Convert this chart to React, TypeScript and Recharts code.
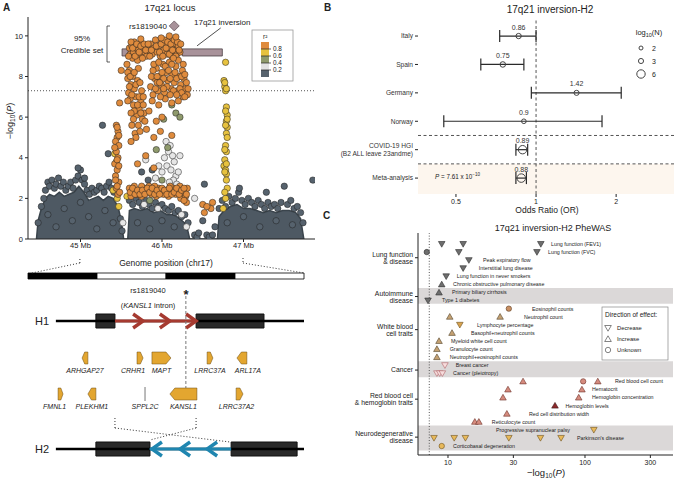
import React from "react";
import {
  ComposedChart,
  ScatterChart,
  Scatter,
  Area,
  XAxis,
  YAxis,
  ReferenceLine,
  ReferenceArea,
  ErrorBar,
} from "recharts";

const FONT = "'Liberation Sans', Arial, Helvetica, sans-serif";

// ---------- A: 17q21 locus (position in Mb, -log10 P) ----------
// upper edge of the dense r2 < 0.2 clouds
const lowLdEnvelope = [
  [44.46, 0], [44.48, 0.9], [44.52, 1.5], [44.57, 2.0], [44.62, 2.2], [44.68, 2.1], [44.74, 2.3],
  [44.8, 2.1], [44.86, 2.2], [44.92, 2.3], [44.98, 2.6], [45.04, 2.3], [45.1, 1.9], [45.16, 2.0],
  [45.22, 2.1], [45.28, 1.9], [45.34, 2.1], [45.4, 2.0], [45.46, 1.6], [45.5, 0.9], [45.53, 0],
  [45.58, 0], [45.6, 1.4], [45.66, 1.5], [45.74, 1.4], [45.82, 1.5], [45.9, 1.3], [45.98, 1.4],
  [46.06, 1.2], [46.14, 1.2], [46.22, 1.0], [46.3, 0.7], [46.34, 0], [46.68, 0], [46.7, 1.1],
  [46.76, 1.4], [46.84, 1.6], [46.92, 1.7], [47.0, 1.5], [47.08, 1.5], [47.16, 1.4], [47.24, 1.3],
  [47.32, 1.4], [47.4, 1.3], [47.48, 1.4], [47.56, 1.4], [47.64, 1.3], [47.7, 1.0], [47.74, 0],
];
const lowLdPoints = [
  [44.48, 0.8], [44.52, 1.6], [44.55, 2.0], [44.57, 2.4], [44.6, 2.8], [44.62, 2.6], [44.65, 2.9],
  [44.68, 2.5], [44.7, 2.7], [44.73, 3.0], [44.76, 2.6], [44.79, 2.8], [44.82, 2.4], [44.85, 2.6],
  [44.88, 2.8], [44.91, 2.5], [44.94, 2.9], [44.97, 3.1], [45.0, 3.4], [45.02, 2.9], [45.05, 2.7],
  [45.08, 2.4], [45.11, 2.2], [45.14, 2.5], [45.17, 2.3], [45.2, 2.4], [45.23, 2.6], [45.26, 2.5],
  [45.29, 2.3], [45.32, 2.6], [45.35, 2.8], [45.38, 2.5], [45.41, 2.3], [45.49, 1.0], [45.51, 0.4],
  [44.6, 1.2], [44.7, 0.6], [44.8, 1.5], [44.9, 0.9], [45.0, 1.8], [45.1, 1.1], [45.2, 0.5],
  [45.3, 1.4], [45.4, 0.8], [45.27, 5.6], [45.34, 4.2], [45.05, 3.0], [44.97, 3.5],
  [45.6, 1.9], [45.64, 1.7], [45.68, 2.0], [45.72, 1.8], [45.76, 1.6], [45.8, 1.9], [45.84, 1.7],
  [45.88, 1.5], [45.92, 1.8], [45.96, 1.6], [46.0, 1.7], [46.04, 1.5], [46.08, 1.4], [46.12, 1.6],
  [46.16, 1.3], [46.2, 1.4], [46.24, 1.1], [46.28, 1.2], [46.32, 0.8], [45.7, 0.8], [45.85, 0.5],
  [46.0, 0.9], [46.15, 0.6], [45.75, 3.3], [45.88, 3.4], [45.83, 2.9],
  [46.4, 0.2], [46.43, 0.1], [46.45, 0.3], [46.5, 0.9], [46.55, 0.2], [46.58, 0.1], [46.62, 0.2],
  [46.52, 2.7], [46.65, 0.6],
  [46.7, 1.5], [46.74, 1.9], [46.78, 1.6], [46.82, 2.1], [46.86, 1.8], [46.9, 2.0], [46.94, 2.3],
  [46.98, 1.9], [47.02, 1.7], [47.06, 2.0], [47.1, 1.8], [47.14, 1.6], [47.18, 1.9], [47.22, 1.7],
  [47.26, 1.5], [47.3, 1.8], [47.34, 1.6], [47.38, 1.7], [47.42, 1.5], [47.46, 1.8], [47.5, 2.6],
  [47.54, 1.7], [47.58, 1.9], [47.62, 1.5], [47.66, 1.6], [47.7, 1.3], [47.73, 0.8], [47.85, 2.9],
  [47.28, 2.3], [46.95, 2.5], [46.8, 0.8], [47.0, 1.1], [47.2, 0.6], [47.4, 0.9], [47.6, 0.7],
];
const weakLdPoints = [
  [46.05, 4.8], [46.1, 4.6], [46.08, 4.3], [46.13, 4.1], [46.03, 4.0], [46.15, 3.8], [46.06, 3.6],
  [46.11, 3.4], [46.0, 3.3], [46.17, 3.1], [45.96, 3.6], [46.14, 2.9], [46.09, 2.8], [46.2, 3.3],
  [45.92, 3.0], [46.18, 2.7], [46.22, 4.1], [45.8, 3.9], [45.78, 1.7], [45.95, 1.5], [46.24, 1.2],
  [46.4, 2.0], [45.52, 0.8], [46.3, 0.6],
];
const moderateLdPoints = [
  [46.02, 5.9], [46.07, 4.5], [46.17, 6.2], [46.22, 6.0], [46.12, 6.6], [45.93, 4.4], [46.0, 2.9],
  [45.85, 1.9],
];
const strongLdPoints = [
  [46.78, 8.7], [46.76, 7.8], [46.77, 7.5], [46.78, 7.3], [46.79, 6.5], [46.8, 6.1], [46.79, 5.8],
  [46.8, 5.5], [46.79, 5.2], [46.78, 4.6], [46.79, 4.3], [46.77, 3.9], [46.76, 3.6], [46.78, 3.4],
  [46.79, 3.2], [46.8, 2.5], [46.78, 2.0], [46.75, 1.5], [46.77, 7.7], [46.79, 7.4], [46.78, 6.3],
  [46.8, 5.9], [46.78, 5.6], [46.8, 5.0], [46.77, 4.4], [46.79, 3.7], [46.77, 3.3], [46.79, 2.9],
  [46.77, 2.3], [45.42, 4.2], [45.44, 3.8], [45.4, 2.4], [45.45, 2.0], [45.47, 1.6], [45.57, 2.1],
];
const topLdPoints = [
  // credible-set block
  [45.6, 9.4], [45.61, 9.1], [45.63, 9.5], [45.65, 9.2], [45.66, 9.7], [45.68, 9.4], [45.7, 9.0],
  [45.71, 9.3], [45.73, 9.6], [45.75, 9.1], [45.77, 9.4], [45.79, 9.2], [45.81, 9.0], [45.84, 9.3],
  [45.86, 9.6], [45.88, 9.1], [45.9, 9.4], [45.92, 9.8], [45.94, 9.2], [45.96, 9.5], [45.98, 9.0],
  [46.0, 9.7], [46.02, 9.3], [46.04, 9.6], [46.06, 9.1], [46.08, 9.8], [46.1, 9.4], [46.12, 9.0],
  [46.14, 9.6], [46.16, 9.3], [46.18, 9.1], [46.2, 9.5], [46.22, 9.2], [45.64, 8.9], [45.7, 8.8],
  [45.59, 9.0], [45.62, 9.7], [45.64, 9.4], [45.67, 9.0], [45.69, 9.6], [45.72, 9.2], [45.74, 9.5],
  [45.76, 8.9], [45.78, 9.6], [45.8, 9.3], [45.83, 9.6], [45.85, 9.0], [45.87, 9.3], [45.93, 9.5],
  [45.97, 9.2], [45.99, 9.6], [46.01, 9.0], [46.03, 9.8], [46.05, 9.4], [46.07, 9.7], [46.09, 9.1],
  [46.11, 9.6], [46.13, 9.3], [46.15, 9.8], [46.17, 9.0], [46.19, 9.7], [46.21, 9.3], [46.23, 9.6],
  [46.09, 10.0], [45.99, 9.9], [45.74, 9.85], [46.17, 9.95],
  // left column below the block
  [45.57, 8.6], [45.6, 8.3], [45.58, 7.9], [45.62, 7.6], [45.59, 7.2], [45.64, 8.0], [45.66, 7.4],
  [45.61, 6.9], [45.65, 6.6], [45.68, 7.0], [45.7, 7.8], [45.72, 6.4], [45.69, 6.1], [45.74, 6.8],
  [45.76, 5.9], [45.71, 8.4], [45.75, 7.3], [45.63, 5.6], [45.67, 5.2], [45.78, 6.2],
  [45.58, 8.2], [45.61, 8.0], [45.63, 7.1], [45.6, 7.5], [45.66, 8.2], [45.68, 7.6], [45.72, 7.0],
  [45.73, 7.7], [45.77, 7.0], [45.66, 6.3], [45.7, 6.6], [45.74, 6.2], [45.71, 5.6], [45.68, 5.0],
  [45.73, 5.3], [45.62, 6.2], [45.58, 6.8], [45.77, 6.6], [45.79, 5.8], [45.65, 5.9],
  // right block
  [45.86, 7.5], [45.89, 7.1], [45.91, 7.9], [45.93, 8.4], [45.95, 7.3], [45.97, 8.0], [45.99, 7.6],
  [46.01, 8.6], [46.03, 7.2], [46.05, 8.2], [46.07, 7.8], [46.09, 8.7], [46.11, 7.4], [46.13, 8.1],
  [46.15, 7.7], [46.17, 8.5], [46.19, 7.3], [46.21, 8.0], [46.23, 7.6], [46.25, 8.3], [46.27, 7.9],
  [46.29, 7.4], [46.31, 7.1], [45.88, 6.8], [45.96, 6.6], [46.04, 6.9], [46.12, 6.7], [46.2, 6.8],
  [46.26, 7.0], [45.84, 6.3], [45.93, 5.8], [46.0, 6.0], [45.81, 5.4], [45.9, 5.0],
  [45.87, 8.0], [45.9, 8.6], [45.92, 7.4], [45.94, 8.0], [45.96, 8.7], [45.98, 7.0], [46.0, 8.2],
  [46.02, 7.9], [46.04, 8.5], [46.06, 7.5], [46.08, 8.3], [46.1, 7.9], [46.12, 8.6], [46.14, 7.3],
  [46.16, 8.2], [46.18, 7.9], [46.2, 8.8], [46.22, 7.4], [46.24, 8.0], [46.26, 8.6], [46.28, 8.1],
  [46.3, 7.7], [46.32, 7.4], [46.24, 7.2], [46.28, 7.0], [46.18, 7.1], [46.1, 7.1], [46.02, 7.4],
  [45.94, 7.7], [45.89, 8.3], [45.97, 7.7], [46.14, 8.9],
  // column near 45.45 Mb
  [45.44, 5.6], [45.46, 5.3], [45.45, 5.0], [45.43, 4.8], [45.47, 4.6], [45.44, 4.3], [45.46, 4.0],
  [45.42, 3.7], [45.45, 3.4], [45.43, 3.1], [45.47, 2.8], [45.44, 2.5], [45.46, 2.2], [45.5, 8.3],
  [45.48, 6.7], [45.45, 5.5], [45.47, 5.1], [45.42, 4.5], [45.45, 3.9], [45.47, 3.6], [45.43, 2.9],
  [45.48, 2.3], [45.45, 2.6],
  // band near -log10 P = 2.3
  [45.6, 2.5], [45.63, 2.3], [45.66, 2.6], [45.69, 2.2], [45.72, 2.4], [45.75, 2.1], [45.78, 2.5],
  [45.81, 2.3], [45.84, 2.6], [45.87, 2.2], [45.9, 2.4], [45.93, 2.1], [45.96, 2.5], [45.99, 2.3],
  [46.02, 2.2], [46.05, 2.4], [46.08, 2.1], [46.11, 2.3], [46.14, 2.5], [46.17, 2.2], [46.2, 2.4],
  [46.23, 2.0], [46.26, 2.3], [46.29, 2.1], [46.31, 2.5], [46.3, 1.8], [45.62, 2.1], [45.75, 2.6],
  [45.91, 2.6], [46.1, 2.6], [46.22, 2.6], [46.27, 1.9],
  [45.61, 2.3], [45.64, 2.5], [45.67, 2.2], [45.7, 2.4], [45.73, 2.2], [45.76, 2.4], [45.79, 2.2],
  [45.82, 2.5], [45.85, 2.3], [45.88, 2.5], [45.91, 2.2], [45.94, 2.4], [45.97, 2.2], [46.0, 2.5],
  [46.03, 2.4], [46.06, 2.2], [46.09, 2.5], [46.12, 2.2], [46.15, 2.3], [46.18, 2.5], [46.21, 2.2],
  [46.24, 2.4], [46.27, 2.5], [46.3, 2.2],
  [46.5, 1.7], [46.52, 1.3], [46.6, 1.5], [46.62, 1.8], [46.55, 1.6],
  [45.62, 4.8], [45.8, 4.1], [45.9, 3.5], [45.7, 3.7], [45.98, 5.3], [46.12, 5.1],
];
const leadSnp = [[46.15, 10.49]];
const inversionSpan = [45.51, 46.74];
const gwsThreshold = 7.3;
const locusXTicks = [45, 46, 47];
const locusYTicks = [0, 2, 4, 6, 8, 10];
const r2Breaks = ["0.8", "0.6", "0.4", "0.2"];

// ---------- A: haplotype diagram (diagram units 0-100 along the region) ----------
const chromBandEdges = [0, 25, 50, 75, 100];
const h1Blocks = [[24.6, 31.5], [60.9, 85.5]];
const h2Blocks = [[24.6, 44.2], [73.6, 97.5]];
const h1Chevrons = [41.7, 51.4, 60.9];
const h2Chevrons = [44.9, 55.1, 64.9];
const rsPosition = 57.2;
const genes = [
  { name: "ARHGAP27", start: 19.6, end: 21.7, strand: -1, row: 0 },
  { name: "CRHR1", start: 39.5, end: 41.7, strand: 1, row: 0 },
  { name: "MAPT", start: 44.9, end: 51.8, strand: 1, row: 0 },
  { name: "LRRC37A", start: 64.9, end: 67.0, strand: 1, row: 0 },
  { name: "ARL17A", start: 75.7, end: 79.3, strand: -1, row: 0 },
  { name: "FMNL1", start: 10.9, end: 12.7, strand: 1, row: 1 },
  { name: "PLEKHM1", start: 21.7, end: 24.6, strand: -1, row: 1 },
  { name: "SPPL2C", start: 42.2, end: 42.6, strand: 0, row: 1 },
  { name: "KANSL1", start: 51.4, end: 61.2, strand: -1, row: 1 },
  { name: "LRRC37A2", start: 75.4, end: 77.9, strand: 1, row: 1 },
];

// ---------- B: forest plot ----------
const cohorts = ["Italy", "Spain", "Germany", "Norway", "COVID-19 HGI\n(B2 ALL leave 23andme)", "Meta-analysis"];
const oddsRatios = [0.86, 0.75, 1.42, 0.9, 0.89, 0.88];
const ciLower = [0.73, 0.62, 0.96, 0.45, 0.84, 0.84];
const ciUpper = [1.0, 0.9, 2.09, 1.77, 0.93, 0.92];
const log10N = [3.2, 3.4, 3.0, 2.6, 6.0, 6.1];
const sizeLegend = [2, 3, 6];

// ---------- C: PheWAS ----------
const phewasTraits = [
  "Lung function (FEV1)", "Lung function (FVC)", "Peak expiratory flow", "Interstitial lung disease",
  "Lung function in never smokers", "Chronic obstructive pulmonary disease", "Primary biliary cirrhosis",
  "Type 1 diabetes", "Eosinophil counts", "Neutrophil count", "Lymphocyte percentage",
  "Basophil+neutrophil counts", "Myeloid white cell count", "Granulocyte count",
  "Neutrophil+eosinophil counts", "Breast cancer", "Cancer (pleiotropy)", "Red blood cell count",
  "Hematocrit", "Hemoglobin concentration", "Hemoglobin levels", "Red cell distribution width",
  "Reticulocyte count", "Progressive supranuclear palsy", "Parkinson's disease", "Corticobasal degeneration",
];
// [trait index, -log10 P, direction: d = decrease, i = increase, u = unknown]
const phewasHits: [number, number, string][] = [
  [0, 9.0, "d"], [0, 12.9, "d"], [0, 47.6, "d"],
  [1, 7.0, "u"], [1, 12.0, "d"], [1, 44.6, "d"],
  [2, 14.2, "d"], [3, 12.9, "d"], [4, 9.7, "d"], [5, 9.0, "i"], [6, 8.6, "i"], [7, 7.15, "d"],
  [8, 27.8, "u"], [9, 10.3, "i"], [9, 24.0, "i"], [10, 12.2, "d"], [11, 10.7, "i"], [12, 8.6, "i"],
  [13, 8.3, "i"], [14, 8.3, "i"],
  [15, 9.5, "d"], [16, 8.3, "d"], [16, 8.7, "d"], [16, 9.1, "d"],
  [17, 35.3, "i"], [17, 97, "u"], [17, 124, "i"], [18, 27.4, "i"], [18, 95, "i"], [19, 25.2, "i"],
  [19, 90, "i"], [20, 60.4, "i"], [21, 26.9, "i"], [22, 15.7, "i"], [22, 16.8, "i"],
  [23, 116, "d"], [24, 7.9, "d"], [24, 11.1, "d"], [24, 13.4, "d"], [24, 27.8, "d"], [24, 47.3, "d"],
  [24, 66.9, "d"], [25, 9.0, "u"],
];
const phewasLabelAt = [
  56.5, 53.7, 18.0, 16.8, 11.6, 10.9, 10.7, 9.04, 41.0, 35.9, 16.3, 14.7, 10.5, 10.3, 10.3, 11.4,
  10.9, 165.6, 112.5, 112.5, 72, 39.0, 20.9, 77.7, 87.5, 10.9,
];
const phewasGroups = [
  ["Lung function", "& disease"], ["Autoimmune", "disease"], ["White blood", "cell traits"],
  ["Cancer"], ["Red blood cell", "& hemoglobin traits"], ["Neurodegenerative", "disease"],
];
const phewasGroupAt = [1.7, 6.5, 10.6, 15.6, 19.2, 23.9];
const phewasBands = [[5.45, 7.4], [14.5, 16.5], [22.45, 25.55]];
const phewasTicks = [10, 30, 100, 300];
const pThreshold = 7.3;

const pts = (a: number[][]) => a.map(([pos, lp]) => ({ pos, lp }));
const dot = (fill: string) => (p: any) => (
  <circle cx={p.cx} cy={p.cy} r={3.2} fill={fill} stroke="#1e1e1e" strokeWidth={0.5} />
);
const tickStyle = { fontSize: 7.5, fill: "#222", fontFamily: FONT };

function LocusPlot() {
  return (
    <ComposedChart width={340} height={270} data={pts(lowLdEnvelope)} margin={{ top: 17, right: 25, bottom: 11, left: 8 }}>
      <XAxis dataKey="pos" type="number" domain={[44.356, 47.877]} allowDataOverflow ticks={locusXTicks}
        interval={0} tickFormatter={(v) => `${v} Mb`} height={20} tickSize={3} tickMargin={1}
        tick={tickStyle} stroke="#222" />
      <YAxis type="number" domain={[0, 10.93]} allowDataOverflow ticks={locusYTicks} interval={0}
        width={20} tickSize={3} tickMargin={2} tick={tickStyle} stroke="#222" />
      <Area dataKey="lp" type="linear" fill="#4e5963" fillOpacity={1} stroke="#3a444c" strokeWidth={1.5}
        dot={false} activeDot={false} isAnimationActive={false} />
      <Scatter data={pts(lowLdPoints)} dataKey="lp" shape={dot("#56626d")} isAnimationActive={false} />
      <Scatter data={pts(weakLdPoints)} dataKey="lp" shape={dot("#e6e6e6")} isAnimationActive={false} />
      <Scatter data={pts(moderateLdPoints)} dataKey="lp" shape={dot("#8f9a6c")} isAnimationActive={false} />
      <Scatter data={pts(strongLdPoints)} dataKey="lp" shape={dot("#e7c23f")} isAnimationActive={false} />
      <Scatter data={pts(topLdPoints)} dataKey="lp" shape={dot("#df8b3d")} isAnimationActive={false} />
      <ReferenceLine y={gwsThreshold} stroke="#555" strokeDasharray="1 2" />
      <ReferenceArea x1={inversionSpan[0]} x2={45.65} y1={9.01} y2={9.36} fill="#a8929a" fillOpacity={1}
        stroke="#4a3f44" strokeWidth={0.8} ifOverflow="visible" />
      <ReferenceArea x1={46.25} x2={inversionSpan[1]} y1={9.01} y2={9.36} fill="#a8929a" fillOpacity={1}
        stroke="#4a3f44" strokeWidth={0.8} ifOverflow="visible" />
      <ReferenceLine segment={[{ x: 45.65, y: 9.19 }, { x: 46.25, y: 9.19 }]} stroke="#7d6e74" strokeWidth={1} />
      <ReferenceLine segment={[{ x: 46.43, y: 9.51 }, { x: 46.72, y: 10.39 }]} stroke="#222" strokeWidth={0.8}
        ifOverflow="visible" />
      <Scatter data={pts(leadSnp)} dataKey="lp" isAnimationActive={false}
        shape={(p: any) => (
          <path d={`M${p.cx},${p.cy - 5} L${p.cx + 5},${p.cy} L${p.cx},${p.cy + 5} L${p.cx - 5},${p.cy}Z`}
            fill="#a8929a" stroke="#5a4b51" strokeWidth={0.7} />
        )} />
    </ComposedChart>
  );
}

const PXU = 276 / 100; // px per diagram unit
const TRACK = { chromTop: 18, chromBottom: 24, h1: 66, rows: [103, 139], h2: 194 };
const labelNudge: Record<string, number> = { CRHR1: -7, ARL17A: 6, FMNL1: -6, LRRC37A2: -3 };

function GeneShape(p: any) {
  const g = p.payload;
  const { cx, cy } = p;
  const w = (g.end - g.start) * PXU;
  const x0 = cx - w / 2;
  const x1 = cx + w / 2;
  const a = Math.min(w * 0.45, 5);
  let body;
  if (g.strand === 0) {
    body = <line x1={cx} x2={cx} y1={cy - 7} y2={cy + 7} stroke="#777" strokeWidth={1} />;
  } else if (g.strand === 1) {
    body = <path d={`M${x0},${cy - 6} L${x1 - a},${cy - 6} L${x1},${cy} L${x1 - a},${cy + 6} L${x0},${cy + 6}Z`}
      fill="#e3a630" stroke="#6b4a12" strokeWidth={0.5} />;
  } else {
    body = <path d={`M${x1},${cy - 6} L${x0 + a},${cy - 6} L${x0},${cy} L${x0 + a},${cy + 6} L${x1},${cy + 6}Z`}
      fill="#e3a630" stroke="#6b4a12" strokeWidth={0.5} />;
  }
  return (
    <g>
      {body}
      <text x={cx + (labelNudge[g.name] || 0)} y={cy + 15} textAnchor="middle" fontSize={7} fontStyle="italic"
        fontFamily={FONT} fill="#222">{g.name}</text>
    </g>
  );
}

function HaplotypeDiagram() {
  const geneData = genes.map((g) => ({ ...g, pos: (g.start + g.end) / 2, y: TRACK.rows[g.row] }));
  const chev = (xs: number[], y: number) => xs.map((pos) => ({ pos, y }));
  const dotted = { stroke: "#333", strokeDasharray: "1 2", strokeWidth: 1, ifOverflow: "visible" as const };
  return (
    <ComposedChart width={340} height={233} margin={{ top: 0, right: 36, bottom: 3, left: 28 }}>
      <XAxis dataKey="pos" type="number" domain={[0, 100]} hide allowDataOverflow />
      <YAxis dataKey="y" type="number" domain={[0, 230]} reversed hide allowDataOverflow />
      {chromBandEdges.slice(0, -1).map((s, i) => (
        <ReferenceArea key={`b${i}`} x1={s} x2={chromBandEdges[i + 1]} y1={TRACK.chromTop} y2={TRACK.chromBottom}
          fill={i % 2 === 0 ? "#000" : "#fff"} fillOpacity={1} stroke="#000" strokeWidth={0.8} />
      ))}
      <ReferenceLine segment={[{ x: 1.4, y: 18 }, { x: 18.8, y: 8 }]} {...dotted} />
      <ReferenceLine segment={[{ x: 18.8, y: 8 }, { x: 18.8, y: 3 }]} {...dotted} />
      <ReferenceLine segment={[{ x: 77.9, y: 3 }, { x: 77.9, y: 8 }]} {...dotted} />
      <ReferenceLine segment={[{ x: 77.9, y: 8 }, { x: 100, y: 18 }]} {...dotted} />
      <ReferenceLine segment={[{ x: 10.1, y: TRACK.h1 }, { x: 100, y: TRACK.h1 }]} stroke="#000" strokeWidth={2.6} />
      <ReferenceLine segment={[{ x: 10.1, y: TRACK.h2 }, { x: 100, y: TRACK.h2 }]} stroke="#000" strokeWidth={2.6} />
      <ReferenceLine segment={[{ x: h1Blocks[0][1], y: TRACK.h1 }, { x: h1Blocks[1][0], y: TRACK.h1 }]}
        stroke="#a63a30" strokeWidth={3.2} />
      <ReferenceLine segment={[{ x: h2Blocks[0][1], y: TRACK.h2 }, { x: h2Blocks[1][0], y: TRACK.h2 }]}
        stroke="#1f86b0" strokeWidth={3.2} />
      {h1Blocks.map(([s, e], i) => (
        <ReferenceArea key={`h1${i}`} x1={s} x2={e} y1={TRACK.h1 - 7} y2={TRACK.h1 + 7} fill="#2a2a2a"
          fillOpacity={1} stroke="#111" />
      ))}
      {h2Blocks.map(([s, e], i) => (
        <ReferenceArea key={`h2${i}`} x1={s} x2={e} y1={TRACK.h2 - 7} y2={TRACK.h2 + 7} fill="#2a2a2a"
          fillOpacity={1} stroke="#111" />
      ))}
      <ReferenceLine segment={[{ x: rsPosition, y: 41 }, { x: rsPosition, y: 133 }]} stroke="#777"
        strokeDasharray="3 2" strokeWidth={1} />
      <ReferenceLine segment={[{ x: 31.5, y: 163 }, { x: 31.5, y: 173 }]} {...dotted} />
      <ReferenceLine segment={[{ x: 31.5, y: 173 }, { x: 73.2, y: 187 }]} {...dotted} />
      <ReferenceLine segment={[{ x: 60.9, y: 163 }, { x: 60.9, y: 173 }]} {...dotted} />
      <ReferenceLine segment={[{ x: 60.9, y: 173 }, { x: 44.2, y: 185 }]} {...dotted} />
      <Scatter data={chev(h1Chevrons, TRACK.h1)} dataKey="y" isAnimationActive={false}
        shape={(p: any) => (
          <path d={`M${p.cx - 10},${p.cy - 7} L${p.cx},${p.cy} L${p.cx - 10},${p.cy + 7}`} fill="none"
            stroke="#a63a30" strokeWidth={3.4} />
        )} />
      <Scatter data={chev(h2Chevrons, TRACK.h2)} dataKey="y" isAnimationActive={false}
        shape={(p: any) => (
          <path d={`M${p.cx + 10},${p.cy - 7} L${p.cx},${p.cy} L${p.cx + 10},${p.cy + 7}`} fill="none"
            stroke="#1f86b0" strokeWidth={3.4} />
        )} />
      <Scatter data={geneData} dataKey="y" shape={GeneShape} isAnimationActive={false} />
    </ComposedChart>
  );
}

function CohortTick(props: any) {
  const { x, y, payload } = props;
  const lines = cohorts[payload.value].split("\n");
  return (
    <text textAnchor="end" fontSize={6.6} fontFamily={FONT} fill="#333">
      {lines.map((l, i) => (
        <tspan key={i} x={x} y={lines.length === 1 ? y + 2.4 : y - 1.5 + i * 8.3}>{l}</tspan>
      ))}
    </text>
  );
}

const radiusFor = (n: number) => 0.9 + n * 0.55;

function ForestPlot() {
  const data = cohorts.map((name, row) => ({
    name, row, or: oddsRatios[row], n: log10N[row],
    err: [oddsRatios[row] - ciLower[row], ciUpper[row] - oddsRatios[row]],
  }));
  return (
    <ScatterChart width={343} height={215} margin={{ top: 19, right: 9, bottom: 9, left: 0 }}>
      <ReferenceArea y1={4.5} y2={5.56} fill="#fdf6ee" fillOpacity={1} stroke="none" ifOverflow="hidden" />
      <ReferenceLine x={1} stroke="#555" strokeDasharray="3 2.5" />
      <ReferenceLine y={3.5} stroke="#555" strokeDasharray="3 2.5" />
      <ReferenceLine y={4.5} stroke="#555" strokeDasharray="3 2.5" />
      <XAxis dataKey="or" type="number" scale="log" domain={[0.36, 3.3]} allowDataOverflow ticks={[0.5, 1, 2]}
        interval={0} height={12} tickSize={3} tickMargin={2} axisLine={false} tick={{ ...tickStyle, fontSize: 7 }}
        stroke="#222" />
      <YAxis dataKey="row" type="number" domain={[-0.6, 5.56]} reversed allowDataOverflow ticks={[0, 1, 2, 3, 4, 5]}
        interval={0} width={78} tickSize={3} tickMargin={2} axisLine={false} tick={<CohortTick />} stroke="#222" />
      <Scatter data={data} isAnimationActive={false}
        shape={(p: any) => (
          <g>
            <circle cx={p.cx} cy={p.cy} r={radiusFor(p.payload.n)} fill="none" stroke="#444" strokeWidth={1} />
            <text x={p.cx} y={p.cy - 6.5} textAnchor="middle" fontSize={7} fontFamily={FONT} fill="#333">
              {String(p.payload.or)}
            </text>
          </g>
        )}>
        <ErrorBar dataKey="err" direction="x" width={6} stroke="#2a2a2a" strokeWidth={1.2} />
      </Scatter>
      <ReferenceArea fill="none" stroke="#222" strokeWidth={1.2} ifOverflow="visible" />
    </ScatterChart>
  );
}

function GroupTick(props: any) {
  const { x, y, payload } = props;
  const idx = phewasGroupAt.indexOf(payload.value);
  const lines = phewasGroups[idx] || [];
  return (
    <text textAnchor="end" fontSize={6.8} fontFamily={FONT} fill="#222">
      {lines.map((l, i) => (
        <tspan key={i} x={x} y={lines.length === 1 ? y + 2.4 : y - 1 + i * 7}>{l}</tspan>
      ))}
    </text>
  );
}

function traitColors(row: number): [string, string] {
  if (row === 10) return ["#d9a34f", "#6b5020"];
  if (row === 8) return ["#c98f63", "#5a3c22"];
  if (row === 20) return ["#8c2a2c", "#3d1010"];
  if (row <= 7) return ["#6e6e6e", "#2e2e2e"];
  if (row <= 14) return ["#c4a173", "#54442c"];
  if (row <= 16) return ["#f7dcdc", "#b0646a"];
  if (row <= 22) return ["#d58b7e", "#6d3028"];
  return ["#e8b95a", "#6e5220"];
}

function marker(dir: string, cx: number, cy: number, fill: string, stroke: string, key?: string) {
  if (dir === "u") return <circle key={key} cx={cx} cy={cy} r={2.7} fill={fill} stroke={stroke} strokeWidth={0.6} />;
  if (dir === "i")
    return <path key={key} d={`M${cx},${cy - 3.2} L${cx + 3.3},${cy + 2.5} L${cx - 3.3},${cy + 2.5}Z`} fill={fill}
      stroke={stroke} strokeWidth={0.6} />;
  return <path key={key} d={`M${cx},${cy + 3.2} L${cx + 3.3},${cy - 2.5} L${cx - 3.3},${cy - 2.5}Z`} fill={fill}
    stroke={stroke} strokeWidth={0.6} />;
}

function PhewasPlot() {
  const hits = phewasHits.map(([row, p, dir]) => ({ row, p, dir }));
  const labels = phewasTraits.map((name, row) => ({ row, p: phewasLabelAt[row], name }));
  return (
    <ScatterChart width={343} height={273} margin={{ top: 18, right: 10, bottom: 13, left: 0 }}>
      {phewasBands.map(([a, b], i) => (
        <ReferenceArea key={i} y1={a} y2={b} fill="#dbd8d8" fillOpacity={1} stroke="none" />
      ))}
      <ReferenceLine x={pThreshold} stroke="#555" strokeDasharray="1 1.8" />
      <XAxis dataKey="p" type="number" scale="log" domain={[6.04, 439]} allowDataOverflow ticks={phewasTicks}
        interval={0} height={20} tickSize={3} tickMargin={2} tick={{ ...tickStyle, fontSize: 7 }} stroke="#222" />
      <YAxis dataKey="row" type="number" domain={[-1.36, 26.11]} reversed allowDataOverflow ticks={phewasGroupAt}
        interval={0} width={78} tickSize={3} tickMargin={2} tick={<GroupTick />} stroke="#222" />
      <Scatter data={hits} isAnimationActive={false}
        shape={(p: any) => {
          const [f, s] = traitColors(p.payload.row);
          return marker(p.payload.dir, p.cx, p.cy, f, s);
        }} />
      <Scatter data={labels} isAnimationActive={false}
        shape={(p: any) => (
          <text x={p.cx} y={p.cy + 1.9} textAnchor={p.payload.row === 23 ? "end" : "start"} fontSize={5.3}
            fontFamily={FONT} fill="#222">{p.payload.name}</text>
        )} />
    </ScatterChart>
  );
}

function Overlay() {
  const t = { fontFamily: FONT, fill: "#222" };
  const barColors = ["#df8b3d", "#e7c23f", "#8f9a6c", "#e2e2e2", "#56626d"];
  return (
    <svg width={683} height={488} style={{ position: "absolute", left: 0, top: 0, pointerEvents: "none" }}>
      <text x={3} y={11} fontSize={10} fontWeight="bold" {...t}>A</text>
      <text x={324} y={11} fontSize={10} fontWeight="bold" {...t}>B</text>
      <text x={323} y={219} fontSize={10} fontWeight="bold" {...t}>C</text>
      <text x={170} y={11} fontSize={9.5} textAnchor="middle" {...t}>17q21 locus</text>
      <text transform="translate(13,121) rotate(-90)" fontSize={9} textAnchor="middle" {...t}>
        −log<tspan fontSize={6.5} dy={2}>10</tspan><tspan dy={-2}>(</tspan><tspan fontStyle="italic">P</tspan>)
      </text>
      <text x={166} y={266} fontSize={8.5} textAnchor="middle" {...t}>Genome position (chr17)</text>
      {/* credible set bracket */}
      <path d="M110,26 L107,26 L107,62 L110,62" fill="none" stroke="#333" strokeWidth={0.8} />
      <text x={82} y={41} fontSize={8} textAnchor="middle" {...t}>95%</text>
      <text x={82} y={53} fontSize={8} textAnchor="middle" {...t}>Credible set</text>
      <text x={148} y={29} fontSize={8} textAnchor="middle" {...t}>rs1819040</text>
      <text x={194} y={25} fontSize={8} {...t}>17q21 inversion</text>
      {/* r2 legend */}
      <rect x={252} y={30} width={41} height={51} fill="#fff" stroke="#9a9a9a" strokeWidth={0.8} />
      <text x={263} y={39} fontSize={6.5} {...t}>r²</text>
      {barColors.map((c, i) => (
        <rect key={c} x={261} y={42 + i * 7} width={8} height={7} fill={c} />
      ))}
      {r2Breaks.map((b, i) => (
        <g key={b}>
          <line x1={261} x2={271} y1={49 + i * 7} y2={49 + i * 7} stroke="#222" strokeWidth={0.7} />
          <text x={273} y={51.3 + i * 7} fontSize={6.4} {...t}>{b}</text>
        </g>
      ))}
      {/* diagram texts */}
      <text x={148} y={293} fontSize={7.5} textAnchor="middle" {...t}>rs1819040</text>
      <text x={186} y={299} fontSize={13} fontWeight="bold" textAnchor="middle" {...t}>*</text>
      <text x={148} y={308} fontSize={7.5} textAnchor="middle" {...t}>
        (<tspan fontStyle="italic">KANSL1</tspan> intron)
      </text>
      <text x={35} y={325} fontSize={11} {...t}>H1</text>
      <text x={35} y={453} fontSize={11} {...t}>H2</text>
      {/* B */}
      <text x={550} y={13} fontSize={10} textAnchor="middle" {...t}>17q21 inversion-H2</text>
      <text x={547} y={213} fontSize={8.5} textAnchor="middle" {...t}>Odds Ratio (OR)</text>
      <text x={435} y={179} fontSize={6.3} {...t}>
        <tspan fontStyle="italic">P</tspan> = 7.61 x 10<tspan fontSize={4.5} dy={-3}>−10</tspan>
      </text>
      <text x={649} y={35} fontSize={7.5} textAnchor="middle" {...t}>
        log<tspan fontSize={5.5} dy={2}>10</tspan><tspan dy={-2}>(N)</tspan>
      </text>
      {sizeLegend.map((n, i) => (
        <g key={n}>
          <circle cx={641} cy={48 + i * 13} r={radiusFor(n)} fill="none" stroke="#444" strokeWidth={1} />
          <text x={652} y={50.5 + i * 13} fontSize={7} {...t}>{n}</text>
        </g>
      ))}
      {/* C */}
      <text x={553} y={231} fontSize={9} textAnchor="middle" {...t}>17q21 inversion-H2 PheWAS</text>
      <text x={546} y={476} fontSize={9.5} textAnchor="middle" {...t}>
        −log<tspan fontSize={6.5} dy={2}>10</tspan><tspan dy={-2}>(</tspan><tspan fontStyle="italic">P</tspan>)
      </text>
      <rect x={602} y={307} width={66} height={53} fill="#fff" stroke="#888" strokeWidth={0.7} />
      <text x={605} y={317} fontSize={6.5} {...t}>Direction of effect:</text>
      {marker("d", 608, 328, "#fff", "#333", "ld")}
      {marker("i", 608, 339, "#fff", "#333", "li")}
      {marker("u", 608, 350, "#fff", "#333", "lu")}
      <text x={617} y={330} fontSize={5.8} {...t}>Decrease</text>
      <text x={617} y={341} fontSize={5.8} {...t}>Increase</text>
      <text x={617} y={352} fontSize={5.8} {...t}>Unknown</text>
    </svg>
  );
}

export default function App() {
  return (
    <div style={{ position: "absolute", left: 0, top: 0, width: 683, height: 488, background: "#fff", fontFamily: FONT }}>
      <div style={{ position: "absolute", left: 0, top: 0 }}><LocusPlot /></div>
      <div style={{ position: "absolute", left: 0, top: 255 }}><HaplotypeDiagram /></div>
      <div style={{ position: "absolute", left: 340, top: 0 }}><ForestPlot /></div>
      <div style={{ position: "absolute", left: 340, top: 215 }}><PhewasPlot /></div>
      <Overlay />
    </div>
  );
}
